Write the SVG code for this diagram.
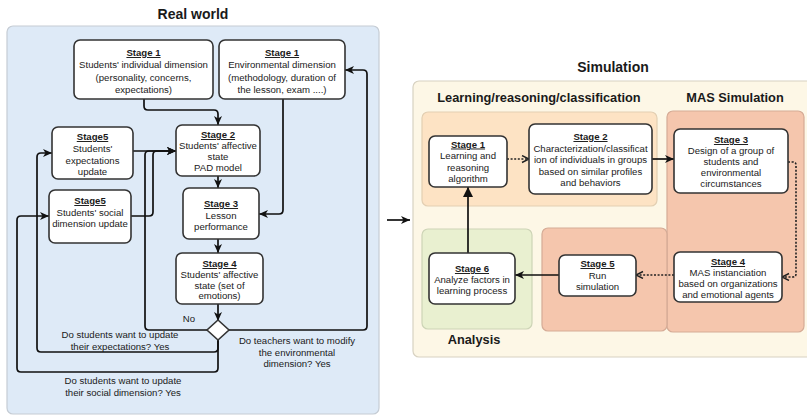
<svg xmlns="http://www.w3.org/2000/svg" width="807" height="417" viewBox="0 0 807 417">
<style>
text{font-family:"Liberation Sans",Arial,sans-serif;fill:#1a1a1a;}
.t{font-size:9.6px;text-anchor:middle;}
.s{font-weight:bold;text-decoration:underline;}
.h{font-size:14px;font-weight:bold;text-anchor:middle;}
.h2{font-size:12.8px;font-weight:bold;text-anchor:middle;}
.n{fill:#fff;stroke:#333;stroke-width:1.6;}
.c{fill:none;stroke:#111;stroke-width:1.7;}
.d{fill:none;stroke:#222;stroke-width:1.6;stroke-dasharray:2,1.6;}
</style>
<defs>
<marker id="a" markerUnits="userSpaceOnUse" markerWidth="10" markerHeight="10" refX="9" refY="4" orient="auto"><path d="M0,0 L9,4 L0,8 L2.5,4 z" fill="#111"/></marker>
<marker id="o" markerUnits="userSpaceOnUse" markerWidth="10" markerHeight="10" refX="8" refY="4" orient="auto"><path d="M1,0.5 L8,4 L1,7.5" fill="none" stroke="#222" stroke-width="1.4"/></marker>
<marker id="b" markerUnits="userSpaceOnUse" markerWidth="12" markerHeight="12" refX="10" refY="5" orient="auto"><path d="M0,0 L10,5 L0,10 z" fill="#111"/></marker>
</defs>

<!-- Panels -->
<g id="realworld">
<text class="h" x="193" y="19">Real world</text>
<rect x="7" y="26" width="372" height="388" rx="6" fill="#deeaf7" stroke="#c5ccd4" stroke-width="1.2"/>
</g>
<g id="simulation">
<text class="h" x="613" y="72">Simulation</text>
<rect x="413" y="81" width="410" height="276" rx="6" fill="#fdf7e6" stroke="#d8d2c2" stroke-width="1.2"/>
<text class="h2" x="539" y="102">Learning/reasoning/classification</text>
<rect x="422" y="112" width="235" height="94" rx="6" fill="#fde3c4" stroke="#e3cfb2" stroke-width="1.2"/>
<text class="h2" x="735" y="102">MAS Simulation</text>
<rect x="667" y="111" width="137" height="221" rx="6" fill="#f5c6ad" stroke="#d5ab96" stroke-width="1.2"/>
<rect x="542" y="228" width="125" height="103" rx="6" fill="#f5c6ad" stroke="#d5ab96" stroke-width="1.2"/>
<rect x="422" y="229" width="110" height="100" rx="6" fill="#e9f0d0" stroke="#cdd4b6" stroke-width="1.2"/>
<text class="h2" x="474" y="344">Analysis</text>
</g>

<!-- Connectors -->
<g id="connectors">
<path class="c" d="M144,99 V106 Q144,110 148,110 H214 Q218,110 218,114 V125" marker-end="url(#a)"/>
<path class="c" d="M283,99 V210 Q283,214 279,214 H259" marker-end="url(#a)"/>
<path class="c" d="M218,176 V188" marker-end="url(#a)"/>
<path class="c" d="M218,239 V253" marker-end="url(#a)"/>
<path class="c" d="M218,304 V321" marker-end="url(#a)"/>
<path class="c" d="M207,330 H149 Q145,330 145,326 V155 Q145,151 149,151 H176" marker-end="url(#a)"/>
<path class="c" d="M133,151 H176" marker-end="url(#a)"/>
<path class="c" d="M131,216 H149 Q153,216 153,212 V155 Q153,151 157,151 H176" marker-end="url(#a)"/>
<path class="c" d="M229,330 H363 Q367,330 367,326 V74 Q367,70 363,70 H345" marker-end="url(#a)"/>
<path class="c" d="M218,339 V348 Q218,352 214,352 H41 Q37,352 37,348 V157 Q37,153 41,153 H52" marker-end="url(#a)"/>
<path class="c" d="M218,339 V368 Q218,372 214,372 H21 Q17,372 17,368 V220 Q17,216 21,216 H49" marker-end="url(#a)"/>
<path class="c" d="M387,220 H410" marker-end="url(#a)"/>
<path class="d" d="M507,159 H529" marker-end="url(#o)"/>
<path class="c" d="M652,159 H674" marker-end="url(#a)"/>
<path class="d" d="M788,162 H793 Q796,162 796,165 V274 Q796,277 793,277 H782" marker-end="url(#o)"/>
<path class="d" d="M674,275 H636" marker-end="url(#o)"/>
<path class="c" d="M559,275 H515" marker-end="url(#a)"/>
<path class="c" d="M468,253 V187" marker-end="url(#b)"/>
<text class="t" x="189" y="322">No</text>
<text class="t" x="120" y="338">Do students want to update</text>
<text class="t" x="120" y="349.5">their expectations? Yes</text>
<text class="t" x="297" y="344">Do teachers want to modify</text>
<text class="t" x="297" y="355.5">the environmental</text>
<text class="t" x="297" y="367">dimension? Yes</text>
<text class="t" x="123" y="384">Do students want to update</text>
<text class="t" x="123" y="396">their social dimension? Yes</text>
</g>

<!-- Real world nodes -->
<g id="rw-stage1-individual">
<rect class="n" x="74" y="40" width="139" height="59" rx="6"/>
<text class="t" x="143.5" y="56"><tspan class="s">Stage 1</tspan></text>
<text class="t" x="143.5" y="68">Students' individual dimension</text>
<text class="t" x="143.5" y="80.5">(personality, concerns,</text>
<text class="t" x="143.5" y="93">expectations)</text>
</g>
<g id="rw-stage1-environment">
<rect class="n" x="219" y="40" width="126" height="59" rx="6"/>
<text class="t" x="282" y="56"><tspan class="s">Stage 1</tspan></text>
<text class="t" x="282" y="68">Environmental dimension</text>
<text class="t" x="282" y="80.5">(methodology, duration of</text>
<text class="t" x="282" y="93">the lesson, exam ....)</text>
</g>
<g id="rw-stage5-expectations">
<rect class="n" x="52" y="127" width="81" height="52" rx="6"/>
<text class="t" x="92.5" y="140"><tspan class="s">Stage5</tspan></text>
<text class="t" x="92.5" y="152">Students'</text>
<text class="t" x="92.5" y="163.5">expectations</text>
<text class="t" x="92.5" y="175">update</text>
</g>
<g id="rw-stage2">
<rect class="n" x="176" y="125" width="84" height="51" rx="6"/>
<text class="t" x="218" y="138"><tspan class="s">Stage 2</tspan></text>
<text class="t" x="218" y="149">Students' affective</text>
<text class="t" x="218" y="160">state</text>
<text class="t" x="218" y="171">PAD model</text>
</g>
<g id="rw-stage5-social">
<rect class="n" x="49" y="190" width="82" height="53" rx="6"/>
<text class="t" x="90" y="204"><tspan class="s">Stage5</tspan></text>
<text class="t" x="90" y="215.5">Students' social</text>
<text class="t" x="90" y="227">dimension update</text>
</g>
<g id="rw-stage3">
<rect class="n" x="183" y="188" width="76" height="51" rx="6"/>
<text class="t" x="221" y="207"><tspan class="s">Stage 3</tspan></text>
<text class="t" x="221" y="218.5">Lesson</text>
<text class="t" x="221" y="230">performance</text>
</g>
<g id="rw-stage4">
<rect class="n" x="176" y="253" width="87" height="51" rx="6"/>
<text class="t" x="219.5" y="267"><tspan class="s">Stage 4</tspan></text>
<text class="t" x="219.5" y="277.5">Students' affective</text>
<text class="t" x="219.5" y="288.5">state (set of</text>
<text class="t" x="219.5" y="299">emotions)</text>
</g>
<g id="rw-decision">
<path d="M218,320 L229,330 L218,340 L207,330 Z" fill="#fff" stroke="#333" stroke-width="1.6"/>
</g>

<!-- Simulation nodes -->
<g id="sim-stage1">
<rect class="n" x="429" y="136" width="78" height="51" rx="6"/>
<text class="t" x="468" y="147.5"><tspan class="s">Stage 1</tspan></text>
<text class="t" x="468" y="159">Learning and</text>
<text class="t" x="468" y="170.5">reasoning</text>
<text class="t" x="468" y="182">algorithm</text>
</g>
<g id="sim-stage2">
<rect class="n" x="529" y="124" width="123" height="70" rx="6"/>
<text class="t" x="590.5" y="140"><tspan class="s">Stage 2</tspan></text>
<text class="t" x="590.5" y="151.5">Characterization/classificat</text>
<text class="t" x="590.5" y="163">ion of individuals in groups</text>
<text class="t" x="590.5" y="174.5">based on similar profiles</text>
<text class="t" x="590.5" y="186">and behaviors</text>
</g>
<g id="sim-stage3">
<rect class="n" x="674" y="129" width="114" height="64" rx="6"/>
<text class="t" x="731" y="143"><tspan class="s">Stage 3</tspan></text>
<text class="t" x="731" y="154">Design of a group of</text>
<text class="t" x="731" y="165">students and</text>
<text class="t" x="731" y="176">environmental</text>
<text class="t" x="731" y="187">circumstances</text>
</g>
<g id="sim-stage4">
<rect class="n" x="674" y="252" width="108" height="50" rx="6"/>
<text class="t" x="728" y="265"><tspan class="s">Stage 4</tspan></text>
<text class="t" x="728" y="276">MAS instanciation</text>
<text class="t" x="728" y="287">based on organizations</text>
<text class="t" x="728" y="298">and emotional agents</text>
</g>
<g id="sim-stage5">
<rect class="n" x="559" y="255" width="77" height="41" rx="6"/>
<text class="t" x="597.5" y="267"><tspan class="s">Stage 5</tspan></text>
<text class="t" x="597.5" y="279">Run</text>
<text class="t" x="597.5" y="290">simulation</text>
</g>
<g id="sim-stage6">
<rect class="n" x="429" y="253" width="86" height="51" rx="6"/>
<text class="t" x="472" y="272"><tspan class="s">Stage 6</tspan></text>
<text class="t" x="472" y="283">Analyze factors in</text>
<text class="t" x="472" y="294">learning process</text>
</g>
</svg>
